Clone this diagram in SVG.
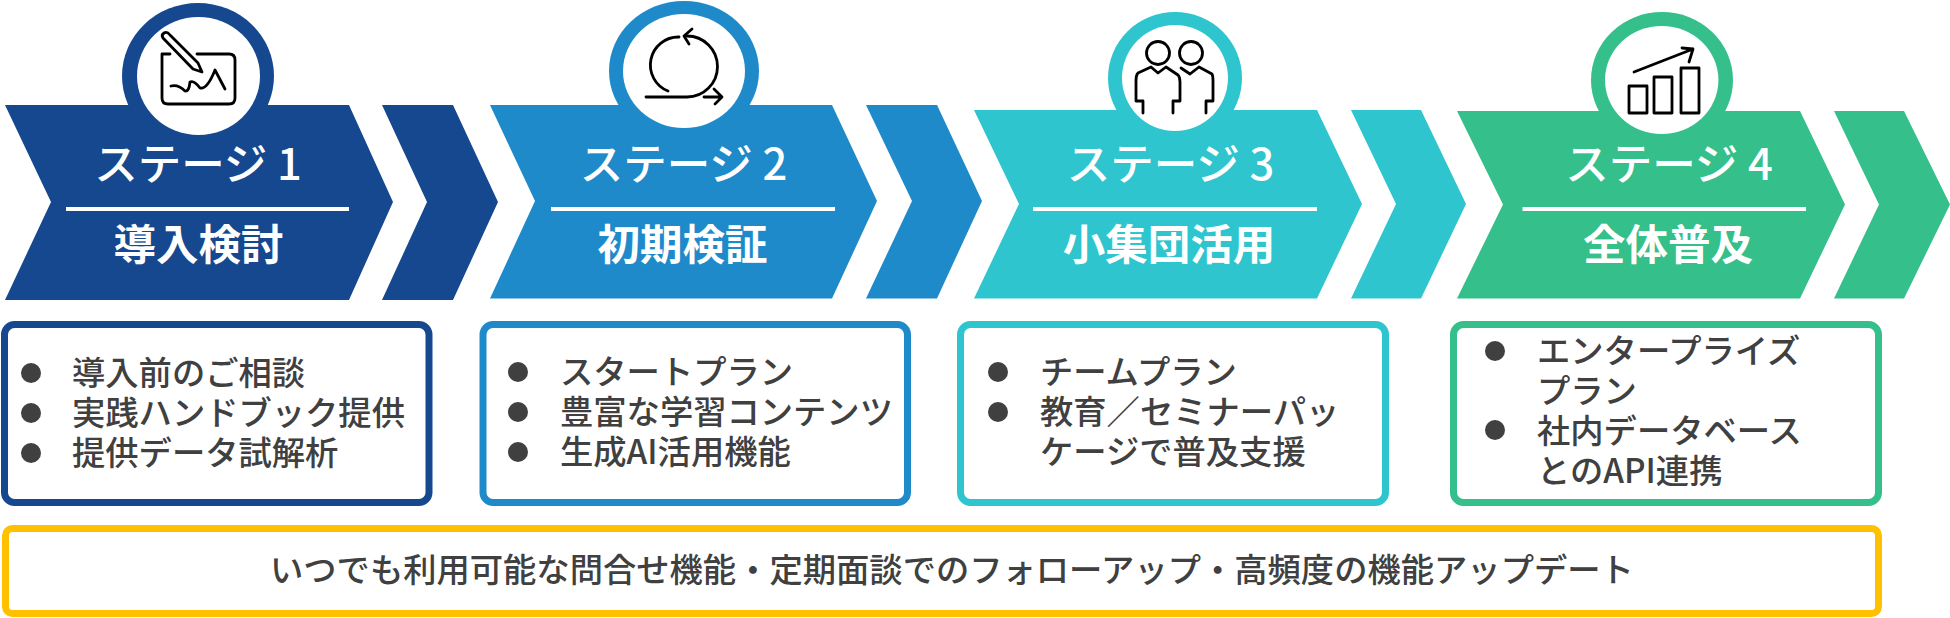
<svg xmlns="http://www.w3.org/2000/svg" width="1950" height="618" viewBox="0 0 1950 618">
<style>
text{font-family:"Noto Sans CJK JP","Noto Sans",sans-serif;font-weight:500}
.t{font-size:43.500px;fill:#fff;text-anchor:middle}
.u{font-size:42.500px;fill:#fff;text-anchor:middle;font-weight:700}
.b{font-size:33.300px;fill:#404040}
.d{stroke:#fff;stroke-width:4}
.w{fill:#fff}
.i{fill:none;stroke:#000;stroke-width:2.800;stroke-linecap:round;stroke-linejoin:round}
.box{fill:#fff;stroke-width:7}
.dot{fill:#404040}
.c1{fill:#15488f}.c2{fill:#1f8aca}.c3{fill:#2ec5ce}.c4{fill:#34bf8b}
.s1{stroke:#15488f}.s2{stroke:#1f8aca}.s3{stroke:#2ec5ce}.s4{stroke:#34bf8b}
</style>
<rect width="1950" height="618" fill="#fff"/>
<g id="connectors">
<polygon class="c1" points="382,105 453,105 498,202 453,300 382,300 427,202"/>
<polygon class="c2" points="866,105 937,105 982,201 937,298.500 866,298.500 912,201"/>
<polygon class="c3" points="1351,110 1421,110 1466,204 1421,298.500 1351,298.500 1396,204"/>
<polygon class="c4" points="1834,111 1904,111 1950,204.500 1904,298.500 1834,298.500 1879,204.500"/>
</g>
<g id="stage-1">
<polygon class="c1" points="5,105 349,105 393,202 349,300 5,300 51,202"/>
<ellipse class="c1" cx="198" cy="76" rx="76" ry="73"/>
<ellipse class="w" cx="198.500" cy="76" rx="61.500" ry="59"/>
<g class="i">
<path d="M170,54H162V98Q162,104 168,104H229Q235,104 235,98V60Q235,54 229,54H197"/>
<path d="M163,38Q161,35 164,33Q167,31 170,35L198,63L202,72L193,69Z"/>
<path d="M171,86Q178,84 185,91Q189,92 190,82Q194,80 200,88Q207,90 215,70L225,89"/>
</g>
<text class="t" x="198" y="180">ステージ 1</text>
<line class="d" x1="66" y1="209" x2="349" y2="209"/>
<text class="u" x="198.500" y="260">導入検討</text>
</g>
<g id="stage-2">
<polygon class="c2" points="490,105 832,105 877,201 832,298.500 490,298.500 535,201"/>
<ellipse class="c2" cx="684" cy="71" rx="75" ry="70"/>
<ellipse class="w" cx="684" cy="71" rx="61" ry="57"/>
<g class="i">
<path d="M668,91A28,28 0 0 1 679,37"/>
<path d="M646,97H687A30,30 0 0 0 687,36"/>
<path d="M692,29L684,36L689,44"/>
<path d="M704,97H722M714,89L722,97L715,104"/>
</g>
<text class="t" x="683.500" y="180">ステージ 2</text>
<line class="d" x1="551" y1="209" x2="835" y2="209"/>
<text class="u" x="682.500" y="260">初期検証</text>
</g>
<g id="stage-3">
<polygon class="c3" points="974,110 1317,110 1362,204 1317,298.500 974,298.500 1019,204"/>
<ellipse class="c3" cx="1175" cy="78" rx="67" ry="66"/>
<ellipse class="w" cx="1175" cy="78" rx="53" ry="53"/>
<g class="i">
<circle cx="1158" cy="53" r="11.500"/>
<circle cx="1191" cy="53" r="11.500"/>
<path d="M1143,113V101H1136V80Q1136,75 1138,73L1151,67L1158,73L1166,67L1178,75Q1180,77 1180,82V101H1173V113"/>
<path d="M1181,68L1190,74L1199,67L1212,74Q1213,76 1213,80V101H1206V113"/>
</g>
<text class="t" x="1170.500" y="180">ステージ 3</text>
<line class="d" x1="1033" y1="209" x2="1317" y2="209"/>
<text class="u" x="1169" y="260">小集団活用</text>
</g>
<g id="stage-4">
<polygon class="c4" points="1457,111 1800,111 1845,204.500 1800,298.500 1457,298.500 1503,204.500"/>
<ellipse class="c4" cx="1662" cy="80" rx="71" ry="68"/>
<ellipse class="w" cx="1661.700" cy="80" rx="56.700" ry="54"/>
<g class="i">
<rect x="1629" y="86" width="18" height="27"/>
<rect x="1654" y="77" width="18" height="36"/>
<rect x="1681" y="68" width="18" height="45"/>
<path d="M1634,72L1693,49M1682,48L1693,49L1689,62"/>
</g>
<text class="t" x="1669" y="180">ステージ 4</text>
<line class="d" x1="1522.500" y1="209" x2="1806" y2="209"/>
<text class="u" x="1668" y="260">全体普及</text>
</g>
<g id="box-1">
<rect class="box s1" x="4.500" y="324.500" width="424.500" height="178" rx="10"/>
<circle class="dot" cx="31" cy="373" r="10"/><circle class="dot" cx="31" cy="413" r="10"/><circle class="dot" cx="31" cy="453" r="10"/>
<text class="b"><tspan x="72" y="385">導入前のご相談</tspan><tspan x="72" y="425">実践ハンドブック提供</tspan><tspan x="72" y="465">提供データ試解析</tspan></text>
</g>
<g id="box-2">
<rect class="box s2" x="483" y="324.500" width="424.500" height="178" rx="10"/>
<circle class="dot" cx="518" cy="372" r="10"/><circle class="dot" cx="518" cy="412" r="10"/><circle class="dot" cx="518" cy="452" r="10"/>
<text class="b"><tspan x="560" y="384">スタートプラン</tspan><tspan x="560" y="424">豊富な学習コンテンツ</tspan><tspan x="560" y="464">生成AI活用機能</tspan></text>
</g>
<g id="box-3">
<rect class="box s3" x="960.500" y="324.500" width="425" height="178" rx="10"/>
<circle class="dot" cx="998" cy="372" r="10"/><circle class="dot" cx="998" cy="412" r="10"/>
<text class="b"><tspan x="1040" y="384">チームプラン</tspan><tspan x="1040" y="424">教育／セミナーパッ</tspan><tspan x="1040" y="464">ケージで普及支援</tspan></text>
</g>
<g id="box-4">
<rect class="box s4" x="1453.500" y="324.500" width="425" height="178" rx="10"/>
<circle class="dot" cx="1495" cy="351" r="10"/><circle class="dot" cx="1495" cy="430" r="10"/>
<text class="b"><tspan x="1537" y="363">エンタープライズ</tspan><tspan x="1537" y="403">プラン</tspan><tspan x="1537" y="443">社内データベース</tspan><tspan x="1537" y="483">とのAPI連携</tspan></text>
</g>
<g id="footer">
<rect class="box" stroke="#ffc000" x="5.500" y="528.500" width="1873" height="85" rx="7"/>
<text class="b" x="270" y="582">いつでも利用可能な問合せ機能・定期面談でのフォローアップ・高頻度の機能アップデート</text>
</g>
</svg>
